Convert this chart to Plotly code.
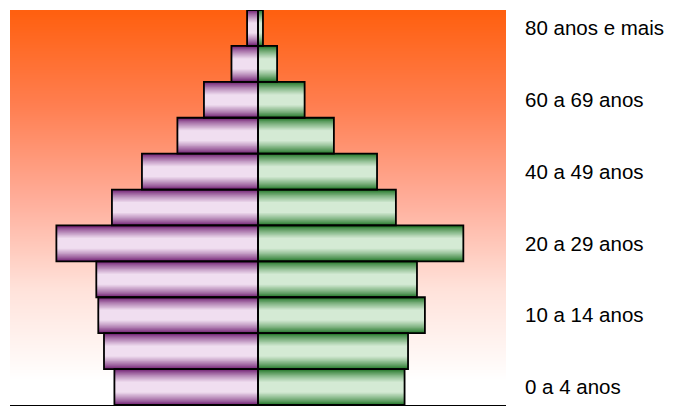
import numpy as np
import plotly.graph_objects as go

# ---- data ----
categories = ["0 a 4 anos", "5 a 9 anos", "10 a 14 anos", "15 a 19 anos", "20 a 29 anos",
              "30 a 39 anos", "40 a 49 anos", "50 a 59 anos", "60 a 69 anos", "70 a 79 anos",
              "80 anos e mais"]
left_values = [5.79, 6.21, 6.44, 6.52, 8.13, 5.89, 4.68, 3.25, 2.18, 1.07, 0.44]
right_values = [5.91, 6.05, 6.73, 6.41, 8.28, 5.56, 4.80, 3.06, 1.88, 0.77, 0.20]
tick_positions = [0, 2, 4, 6, 8, 10]
tick_labels = [categories[i] for i in tick_positions]
x_max = 10

pos = list(range(len(categories)))
neg_left = [-v for v in left_values]

fig = go.Figure()

# background gradient (orange top -> white)
M = 80
y_lo, y_hi = 0.11, 10.5
dy = (y_hi - y_lo) / M
zgrad = [[i / (M - 1), i / (M - 1)] for i in range(M)]
fig.add_trace(go.Heatmap(z=zgrad, x0=-x_max / 2, dx=x_max, y0=y_lo + dy / 2, dy=dy,
                         colorscale=[[0, "#FFFFFF"], [0.25, "#FFE2DA"], [0.5, "#FFAC98"],
                                     [0.75, "#FF7E50"], [1, "#FF6010"]],
                         showscale=False, zsmooth="best", hoverinfo="skip"))

def mix(c1, c2, t):
    return "rgb(%d,%d,%d)" % tuple(round(a + (b - a) * t) for a, b in zip(c1, c2))

N = 14
widths = np.linspace(1.0, 0.3, N)
purple_dark, purple_light = (110, 28, 112), (240, 222, 240)
green_dark, green_light = (30, 115, 35), (212, 234, 212)
for k in range(N):
    t = (k / (N - 1)) ** 0.8
    fig.add_trace(go.Bar(y=pos, x=neg_left, orientation="h", width=widths[k],
                         marker=dict(color=mix(purple_dark, purple_light, t), line=dict(width=0)),
                         hoverinfo="skip", showlegend=False))
    fig.add_trace(go.Bar(y=pos, x=right_values, orientation="h", width=widths[k],
                         marker=dict(color=mix(green_dark, green_light, t), line=dict(width=0)),
                         hoverinfo="skip", showlegend=False))

# outlines
for vals in (neg_left, right_values):
    fig.add_trace(go.Bar(y=pos, x=vals, orientation="h", width=1.0,
                         marker=dict(color="rgba(0,0,0,0)", line=dict(color="#000000", width=1.8)),
                         showlegend=False))

# page body has an 8px default margin, so the figure is sized to fit the window
fig.update_layout(
    width=670, height=398,
    margin=dict(l=2, r=172, t=2, b=1),
    barmode="overlay",
    paper_bgcolor="white", plot_bgcolor="white",
    showlegend=False,
    font=dict(family="Liberation Sans, Arial", color="#000000"),
)
fig.update_xaxes(range=[-x_max, x_max], tickvals=[-x_max, -x_max / 2, 0, x_max / 2, x_max],
                 showticklabels=False, ticks="outside", ticklen=5, tickcolor="#000",
                 showline=True, linecolor="#000", linewidth=1, showgrid=False, zeroline=False,
                 automargin=False)
fig.update_yaxes(range=[-0.5, 10.5], side="right", tickvals=tick_positions, ticktext=tick_labels,
                 ticks="", ticklabelstandoff=18, tickfont=dict(size=20.5, family="Liberation Sans, Arial"),
                 showline=False, showgrid=False, zeroline=False, automargin=False)

fig.write_html("out.html")
